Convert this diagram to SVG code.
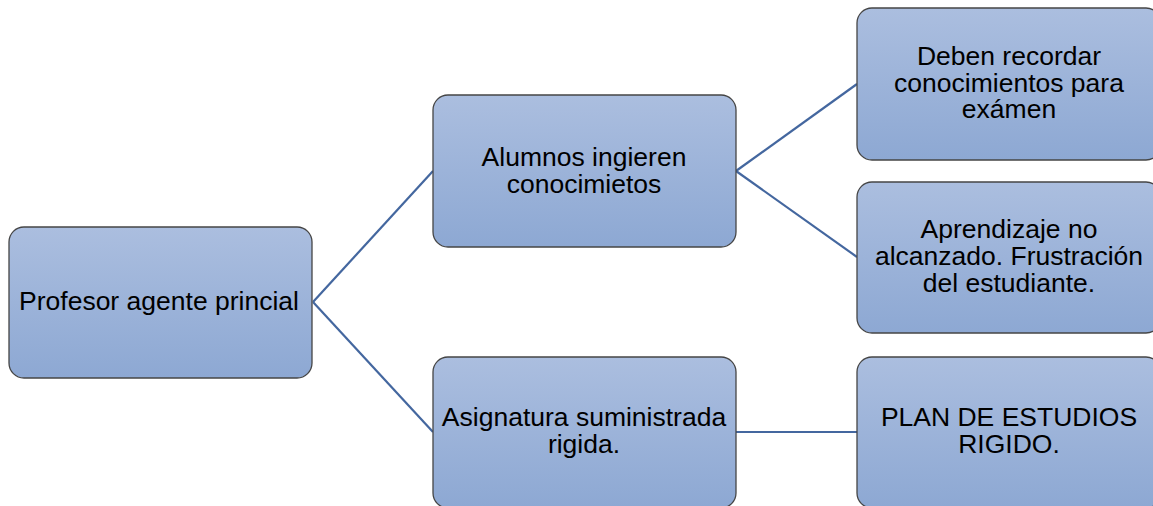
<svg xmlns="http://www.w3.org/2000/svg" width="1153" height="506" viewBox="0 0 1153 506">
<defs>
<linearGradient id="g" x1="0" y1="0" x2="0" y2="1">
<stop offset="0" stop-color="#abbedf"/>
<stop offset="1" stop-color="#8da8d3"/>
</linearGradient>
</defs>
<style>
.box{fill:url(#g);stroke:#454545;stroke-width:1.3}
.t{font-family:"Liberation Sans",Arial,sans-serif;font-size:26.5px;fill:#000;text-anchor:middle}
.c{stroke:#44679f;stroke-width:2.2;fill:none}
</style>
<rect width="1153" height="506" fill="#fff"/>
<g id="connectors">
<line class="c" x1="313" y1="302" x2="433" y2="171"/>
<line class="c" x1="313" y1="302" x2="433" y2="432"/>
<line class="c" x1="736" y1="171" x2="857" y2="84"/>
<line class="c" x1="736" y1="171" x2="857" y2="257"/>
<line class="c" x1="736" y1="432" x2="857" y2="432"/>
</g>
<g id="n1">
<rect class="box" x="9" y="227" width="303" height="151" rx="15"/>
<text class="t" x="159" y="310">Profesor agente princial</text>
</g>
<g id="n2">
<rect class="box" x="433" y="95" width="303" height="152" rx="15"/>
<text class="t" y="166"><tspan x="584">Alumnos ingieren</tspan><tspan x="584" dy="26.8">conocimietos</tspan></text>
</g>
<g id="n3">
<rect class="box" x="857" y="8" width="304" height="152" rx="15"/>
<text class="t" y="65"><tspan x="1009">Deben recordar</tspan><tspan x="1009" dy="26.6">conocimientos para</tspan><tspan x="1009" dy="26.6">exámen</tspan></text>
</g>
<g id="n4">
<rect class="box" x="857" y="182" width="304" height="151" rx="15"/>
<text class="t" y="238"><tspan x="1009">Aprendizaje no</tspan><tspan x="1009" dy="26.8">alcanzado. Frustración</tspan><tspan x="1009" dy="26.8">del estudiante.</tspan></text>
</g>
<g id="n5">
<rect class="box" x="433" y="357" width="303" height="151" rx="15"/>
<text class="t" y="426"><tspan x="584">Asignatura suministrada</tspan><tspan x="584" dy="26.8">rigida.</tspan></text>
</g>
<g id="n6">
<rect class="box" x="857" y="357" width="304" height="151" rx="15"/>
<text class="t" y="426"><tspan x="1009">PLAN DE ESTUDIOS</tspan><tspan x="1009" dy="26.8">RIGIDO.</tspan></text>
</g>
</svg>
